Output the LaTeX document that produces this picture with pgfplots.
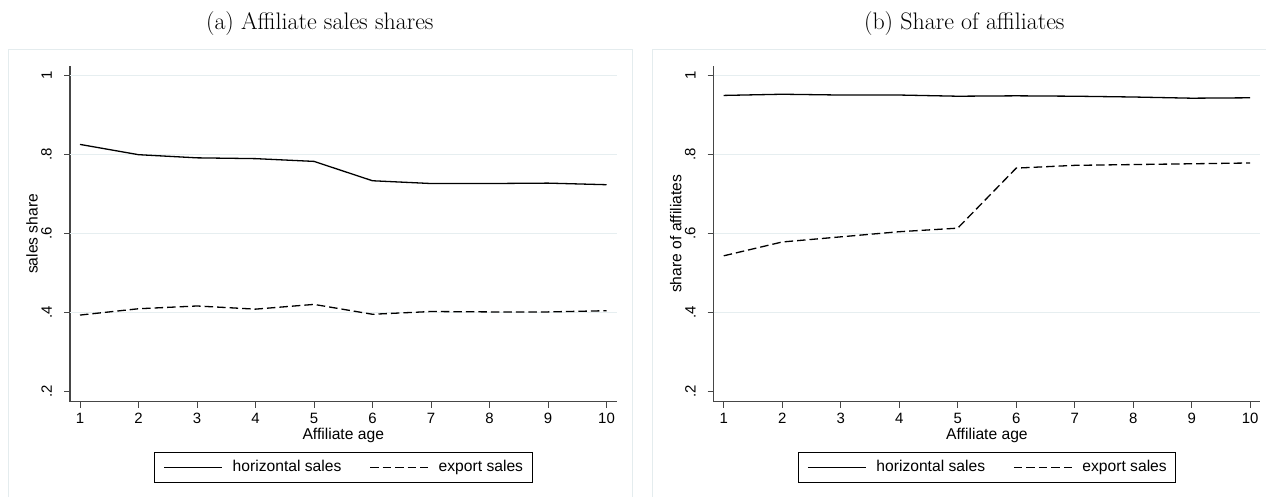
\documentclass[border=0pt]{standalone}
\usepackage{fontspec}
\usepackage{pgfplots}
\usepackage{pgfplotstable}
\pgfplotsset{compat=1.18}
\newfontfamily\arial{Liberation Sans}
\definecolor{framec}{RGB}{228,236,238}
\definecolor{gridc}{RGB}{230,238,240}
\definecolor{spinec}{RGB}{70,70,70}

\pgfplotstableread{
x h e
1 0.825 0.393
2 0.799 0.409
3 0.791 0.416
4 0.789 0.408
5 0.782 0.420
6 0.733 0.395
7 0.726 0.402
8 0.726 0.401
9 0.727 0.401
10 0.723 0.404
}\tableA

\pgfplotstableread{
x h e
1 0.949 0.543
2 0.952 0.578
3 0.950 0.591
4 0.950 0.604
5 0.947 0.613
6 0.948 0.765
7 0.947 0.772
8 0.945 0.774
9 0.942 0.776
10 0.943 0.778
}\tableB

\pgfplotsset{
 stataaxis/.style={
  scale only axis, width=546.5bp, height=335.7bp,
  xmin=0.829, xmax=10.171, ymin=0.1737, ymax=1.0235,
  axis x line*=bottom, axis y line*=left,
  axis line style={spinec, line width=1.1bp, -},
  xtick={1,2,3,4,5,6,7,8,9,10},
  xticklabels={1,2,3,4,5,6,7,8,9,10},
  ytick={0.2,0.4,0.6,0.8,1},
  yticklabels={.2,.4,.6,.8,1},
  tick align=outside, major tick length=6bp,
  tick style={spinec, line width=1bp},
  extra y ticks={0.4,0.6,0.8,1},
  extra y tick labels={},
  extra y tick style={grid=major, major tick length=0pt, major grid style={gridc, line width=1.2bp}},
  /pgf/number format/assume math mode=true,
  tick label style={font=\arial\fontsize{15}{18}\selectfont},
  yticklabel style={xshift=-12bp, rotate=90, anchor=south, inner sep=0pt},
  xticklabel style={yshift=-5.5bp, anchor=north, inner sep=0pt},
  label style={font=\arial\fontsize{15.7}{19}\selectfont},
  xlabel={Affiliate age},
  xlabel style={at={(axis description cs:0.5,-0.0992)}, anchor=center},
  ylabel style={at={(axis description cs:-0.0695,0.5)}, anchor=center},
  legend columns=2,
  legend style={at={(axis description cs:0.5,-0.1507)}, anchor=north,
    draw=black, line width=0.9bp, fill=white,
    inner xsep=9bp, inner ysep=7.6bp,
    font=\arial\fontsize{15.7}{19}\selectfont,
    /tikz/every odd column/.append style={column sep=10bp},
    /tikz/every even column/.append style={column sep=28bp},
    nodes={inner sep=0pt, text height=11.4bp, text depth=3.3bp}},
  legend image code/.code={\draw[#1] (0bp,0bp) -- (58bp,0bp);},
 },
 hline/.style={black, line width=1.3bp, no marks},
 eline/.style={black, line width=1.3bp, no marks, dash pattern=on 8.5bp off 4bp},
}

\begin{document}
\begin{tikzpicture}
\useasboundingbox (0,0) rectangle (1266bp,497bp);
\fill[white] (0,0) rectangle (1266bp,497bp);
\draw[framec, line width=1.2bp] (8.7bp,0) -- (8.7bp,447.7bp) -- (632.3bp,447.7bp) -- (632.3bp,0);
\draw[framec, line width=1.2bp] (652.7bp,0) -- (652.7bp,447.7bp) -- (1267bp,447.7bp);
\node[font=\fontsize{24}{29}\selectfont, anchor=base] at (319.8bp,467.7bp) {(a) Affiliate sales shares};
\node[font=\fontsize{24}{29}\selectfont, anchor=base] at (964.3bp,467.7bp) {(b) Share of affiliates};

\begin{axis}[stataaxis, at={(70bp,95.3bp)}, anchor=south west, ylabel={sales share}]
\addplot[hline] table[x=x, y=h] {\tableA};
\addlegendentry{horizontal sales}
\addplot[eline] table[x=x, y=e] {\tableA};
\addlegendentry{export sales}
\end{axis}

\begin{axis}[stataaxis, at={(713.7bp,95.3bp)}, anchor=south west, ylabel={share of affiliates}]
\addplot[hline] table[x=x, y=h] {\tableB};
\addlegendentry{horizontal sales}
\addplot[eline] table[x=x, y=e] {\tableB};
\addlegendentry{export sales}
\end{axis}
\end{tikzpicture}
\end{document}
